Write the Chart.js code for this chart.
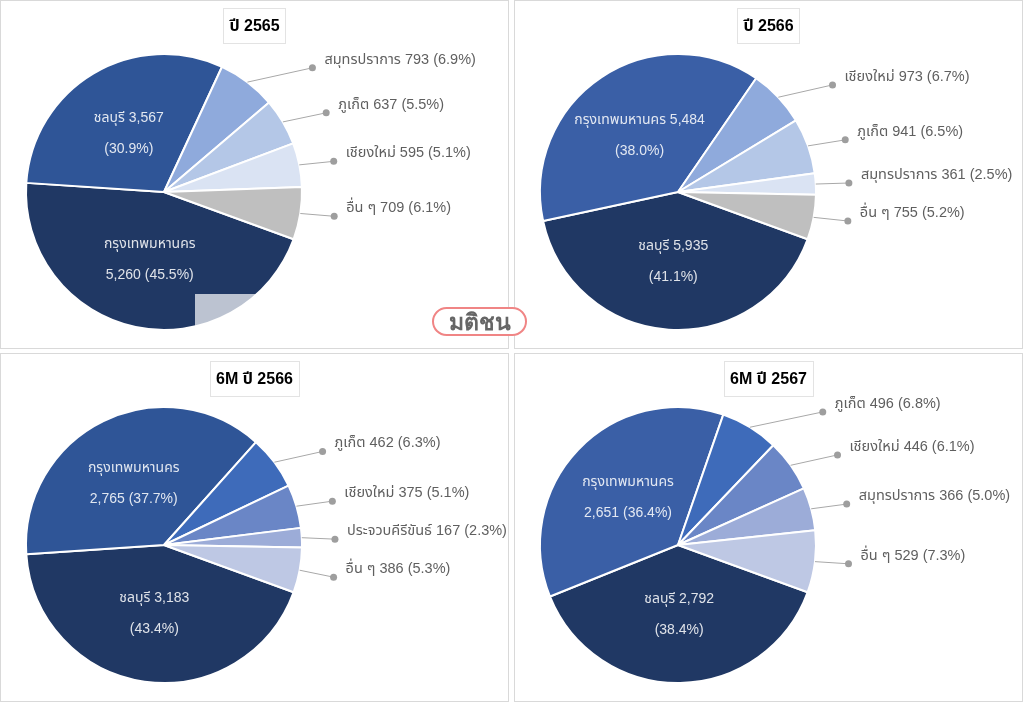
<!DOCTYPE html>
<html>
<head>
<meta charset="utf-8">
<script src="https://cdn.jsdelivr.net/npm/chart.js@4.4.1/dist/chart.umd.min.js"></script>
<style>
    html, body { margin: 0; padding: 0; background: #fff; }
    body { width: 1024px; height: 703px; position: relative; overflow: hidden; }
    .panel { position: absolute; width: 509px; height: 349px; box-sizing: border-box; border: 1px solid #d9d9d9; background: #fff; }
    .panel canvas { display: block; }
    #p1 { left: 0; top: 0; }
    #p2 { left: 514px; top: 0; }
    #p3 { left: 0; top: 353px; }
    #p4 { left: 514px; top: 353px; }
    .veil { position: absolute; left: 195px; top: 294px; width: 200px; height: 53px; background: rgba(255,255,255,0.7); }
    .logo {
        position: absolute; left: 432px; top: 307px; width: 95px; height: 29px; box-sizing: border-box;
        border: 2px solid #f08585; border-radius: 15px; background: #fff;
        font: bold 23px 'Liberation Sans', Arial, sans-serif; color: #666; text-align: center; line-height: 26px;
    }
</style>
</head>
<body>
<div class="panel" id="p1"><canvas id="c1"></canvas></div>
<div class="panel" id="p2"><canvas id="c2"></canvas></div>
<div class="panel" id="p3"><canvas id="c3"></canvas></div>
<div class="panel" id="p4"><canvas id="c4"></canvas></div>
<div class="veil"></div>
<div class="logo">มติชน</div>

<script>
// Data
const titles = ['ปี 2565', 'ปี 2566', '6M ปี 2566', '6M ปี 2567'];

const provinces2565 = ['กรุงเทพมหานคร', 'ชลบุรี', 'สมุทรปราการ', 'ภูเก็ต', 'เชียงใหม่', 'อื่น ๆ'];
const values2565 = [5260, 3567, 793, 637, 595, 709];

const provinces2566 = ['ชลบุรี', 'กรุงเทพมหานคร', 'เชียงใหม่', 'ภูเก็ต', 'สมุทรปราการ', 'อื่น ๆ'];
const values2566 = [5935, 5484, 973, 941, 361, 755];

const provinces6M2566 = ['ชลบุรี', 'กรุงเทพมหานคร', 'ภูเก็ต', 'เชียงใหม่', 'ประจวบคีรีขันธ์', 'อื่น ๆ'];
const values6M2566 = [3183, 2765, 462, 375, 167, 386];

const provinces6M2567 = ['ชลบุรี', 'กรุงเทพมหานคร', 'ภูเก็ต', 'เชียงใหม่', 'สมุทรปราการ', 'อื่น ๆ'];
const values6M2567 = [2792, 2651, 496, 446, 366, 529];

const FONT = "'Liberation Sans', Arial, 'Noto Sans Thai', sans-serif";

// Title drawn inside a thin box at the top centre of each panel
const boxTitle = {
    id: 'boxTitle',
    afterDraw(chart, args, opts) {
        const ctx = chart.ctx;
        ctx.save();
        ctx.font = 'bold 16px ' + FONT;
        const w = ctx.measureText(opts.text).width + 12;
        const cx = chart.width / 2;
        ctx.strokeStyle = '#e3e3e3';
        ctx.lineWidth = 1;
        ctx.strokeRect(Math.round(cx - w / 2) + 0.5, 7.5, Math.round(w), 35);
        ctx.fillStyle = '#000';
        ctx.textAlign = 'center';
        ctx.textBaseline = 'middle';
        ctx.fillText(opts.text, cx, 26);
        ctx.restore();
    }
};

// Two big slices get labels inside, the rest get leader lines to the right
const pieLabels = {
    id: 'pieLabels',
    afterDatasetsDraw(chart, args, opts) {
        const ctx = chart.ctx;
        const meta = chart.getDatasetMeta(0);
        const data = chart.data.datasets[0].data;
        const names = chart.data.labels;
        const total = data.reduce((a, b) => a + b, 0);
        const outer = [];

        ctx.save();

        meta.data.forEach((arc, i) => {
            const p = arc.getProps(['x', 'y', 'startAngle', 'endAngle', 'outerRadius'], true);
            const mid = (p.startAngle + p.endAngle) / 2;
            const words = [names[i], data[i].toLocaleString('en-US'), '(' + (data[i] / total * 100).toFixed(1) + '%)'];

            if (i < 2) {
                const n = opts.breaks[i];
                const lines = [words.slice(0, n).join(' '), words.slice(n).join(' ')];
                const lx = p.x + Math.cos(mid) * p.outerRadius * 0.5;
                const ly = p.y + Math.sin(mid) * p.outerRadius * 0.5;
                ctx.font = '14px ' + FONT;
                ctx.fillStyle = 'rgba(255,255,255,0.86)';
                ctx.textAlign = 'center';
                ctx.textBaseline = 'middle';
                ctx.fillText(lines[0], lx, ly - 15);
                ctx.fillText(lines[1], lx, ly + 16);
            } else {
                outer.push({ p, mid, text: words.join(' ') });
            }
        });

        ctx.font = '14.5px ' + FONT;
        let prev = -Infinity;
        outer.forEach(o => {
            const r = o.p.outerRadius;
            let dy = Math.sin(o.mid) * r * 1.13;
            dy = Math.max(dy, prev + 38);
            prev = dy;
            const dx = 171 * Math.sqrt(Math.max(0, 1 - (dy / 250) ** 2));
            const sx = o.p.x + Math.cos(o.mid) * r;
            const sy = o.p.y + Math.sin(o.mid) * r;
            const ex = o.p.x + dx;
            const ey = o.p.y + dy;

            ctx.strokeStyle = '#a8a8a8';
            ctx.lineWidth = 1;
            ctx.beginPath();
            ctx.moveTo(sx, sy);
            ctx.lineTo(ex, ey);
            ctx.stroke();

            ctx.fillStyle = '#9e9e9e';
            ctx.beginPath();
            ctx.arc(ex, ey, 3.5, 0, Math.PI * 2);
            ctx.fill();

            ctx.fillStyle = '#5f5f5f';
            ctx.textAlign = 'left';
            ctx.textBaseline = 'middle';
            ctx.fillText(o.text, ex + 12, ey - 8);
        });

        ctx.restore();
    }
};

function makePie(id, title, labels, values, colors, breaks) {
    return new Chart(document.getElementById(id), {
        type: 'pie',
        data: {
            labels: labels,
            datasets: [{
                data: values,
                backgroundColor: colors,
                borderColor: '#fff',
                borderWidth: 2,
                radius: 138
            }]
        },
        options: {
            responsive: true,
            maintainAspectRatio: false,
            animation: false,
            rotation: 110,
            layout: { padding: { left: 25, top: 53, right: 206, bottom: 18 } },
            plugins: {
                legend: { display: false },
                tooltip: { enabled: false },
                boxTitle: { text: title },
                pieLabels: { breaks: breaks }
            }
        },
        plugins: [boxTitle, pieLabels]
    });
}

makePie('c1', titles[0], provinces2565, values2565,
    ['#203864', '#2F5597', '#8FAADC', '#B4C7E7', '#DAE3F3', '#BFBFBF'], [1, 2]);
makePie('c2', titles[1], provinces2566, values2566,
    ['#203864', '#3A5FA6', '#8FAADC', '#B4C7E7', '#DAE3F3', '#BFBFBF'], [2, 2]);
makePie('c3', titles[2], provinces6M2566, values6M2566,
    ['#203864', '#2F5597', '#3E6BBA', '#6A86C6', '#9CACD8', '#BEC8E4'], [2, 1]);
makePie('c4', titles[3], provinces6M2567, values6M2567,
    ['#203864', '#3A5FA6', '#3E6BBA', '#6A86C6', '#9CACD8', '#BEC8E4'], [2, 1]);
</script>
</body>
</html>
